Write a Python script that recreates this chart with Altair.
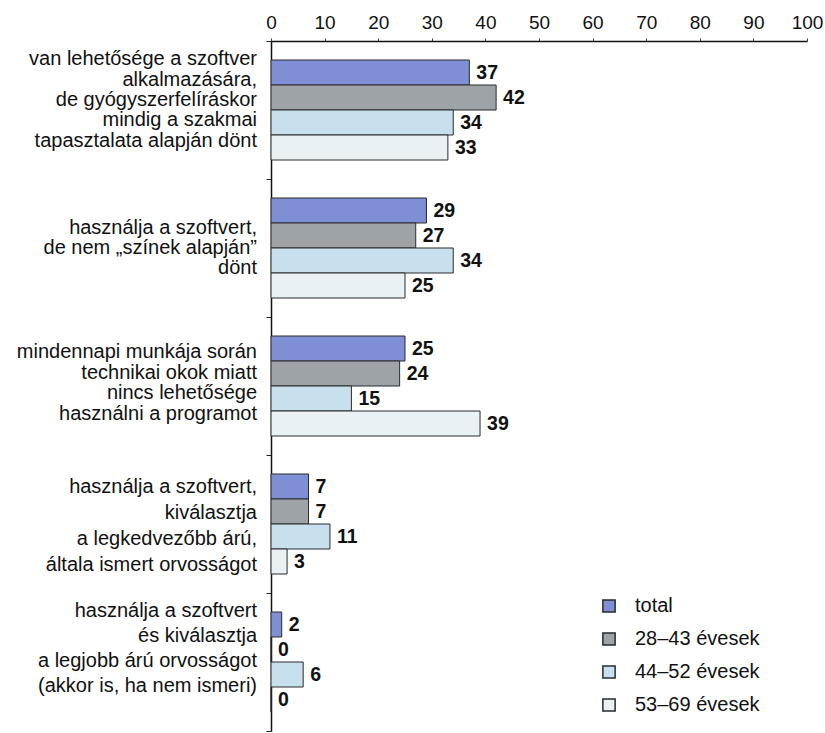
import altair as alt
import pandas as pd

# Answer categories (line breaks as printed beside the bars)
categories = [
    "van lehetősége a szoftver\nalkalmazására,\nde gyógyszerfelíráskor\nmindig a szakmai\ntapasztalata alapján dönt",
    "használja a szoftvert,\nde nem „színek alapján”\ndönt",
    "mindennapi munkája során\ntechnikai okok miatt\nnincs lehetősége\nhasználni a programot",
    "használja a szoftvert,\nkiválasztja\na legkedvezőbb árú,\náltala ismert orvosságot",
    "használja a szoftvert\nés kiválasztja\na legjobb árú orvosságot\n(akkor is, ha nem ismeri)",
]

series = ["total", "28–43 évesek", "44–52 évesek", "53–69 évesek"]
colors = ["#7f8fd6", "#9ea3a8", "#c8e0ee", "#e9f1f4"]

total = [37, 29, 25, 7, 2]
age_28_43 = [42, 27, 24, 7, 0]
age_44_52 = [34, 34, 15, 11, 6]
age_53_69 = [33, 25, 39, 3, 0]

x_ticks = [0, 10, 20, 30, 40, 50, 60, 70, 80, 90, 100]

# typesetting of the category labels: leading and vertical nudge (px)
label_leading = [20.3, 20.3, 20.4, 26.0, 25.0]
label_nudge = [-10, 0, -3, 1.5, -14]

FONT = "Liberation Sans"
BAND = 138  # px per category band (690 / 5)

rows = []
for name, vals in zip(series, [total, age_28_43, age_44_52, age_53_69]):
    for cat, v in zip(categories, vals):
        rows.append({"cat": cat, "series": name, "value": v})
df = pd.DataFrame(rows)

label_rows = []
for cat, lead, nudge in zip(categories, label_leading, label_nudge):
    lines = cat.split("\n")
    n = len(lines)
    for j, line in enumerate(lines):
        label_rows.append(
            {"cat": cat, "line": line, "off": nudge + (j - (n - 1) / 2) * lead}
        )
label_df = pd.DataFrame(label_rows)

y_enc = alt.Y(
    "cat:N",
    sort=categories,
    scale=alt.Scale(paddingInner=0, paddingOuter=0),
    axis=alt.Axis(
        title=None,
        labels=False,
        tickBand="extent",
        tickSize=5,
        tickColor="#222",
        domainColor="#111",
        domainWidth=1.5,
    ),
)
yoff_enc = alt.YOffset(
    "series:N", sort=series, scale=alt.Scale(paddingInner=0, paddingOuter=0.76)
)

bars = alt.Chart(df).mark_bar(stroke="#2a2a2a", strokeWidth=1).encode(
    x=alt.X(
        "value:Q",
        scale=alt.Scale(domain=[0, 100], nice=False),
        axis=alt.Axis(
            orient="top",
            title=None,
            values=x_ticks,
            grid=False,
            labelFontSize=19,
            labelFont=FONT,
            labelColor="#111",
            labelPadding=6,
            labelFlush=False,
            tickSize=3,
            tickColor="#444",
            domainColor="#111",
            domainWidth=1.5,
        ),
    ),
    y=y_enc,
    yOffset=yoff_enc,
    color=alt.Color(
        "series:N",
        sort=series,
        scale=alt.Scale(domain=series, range=colors),
        legend=alt.Legend(
            title=None,
            orient="none",
            legendX=328,
            legendY=555,
            symbolType="square",
            symbolSize=150,
            symbolStrokeColor="#2a2a2a",
            symbolStrokeWidth=1.5,
            labelFontSize=20,
            labelFont=FONT,
            labelColor="#111",
            labelOffset=16,
            rowPadding=13,
        ),
    ),
)

values = alt.Chart(df).mark_text(
    align="left",
    baseline="middle",
    dx=7,
    fontSize=19.5,
    fontWeight="bold",
    font=FONT,
    color="#111",
).encode(
    x="value:Q",
    y=alt.Y("cat:N", sort=categories),
    yOffset=alt.YOffset("series:N", sort=series),
    text="value:Q",
)

# category labels, one text line per row, centred on each band
cat_labels = alt.Chart(label_df).mark_text(
    align="right",
    baseline="middle",
    dx=-14,
    fontSize=20,
    font=FONT,
    color="#111",
).encode(
    x=alt.value(0),
    y=alt.Y("cat:N", sort=categories),
    yOffset=alt.YOffset(
        "off:Q", scale=alt.Scale(domain=[-BAND / 2, BAND / 2], range=[0, BAND])
    ),
    text="line:N",
)

chart = (
    alt.layer(alt.layer(bars, values), cat_labels)
    .resolve_scale(yOffset="independent")
    .properties(
        width=536,
        height=690,
        autosize=alt.AutoSizeParams(type="none"),
        padding={"left": 271, "top": 41, "right": 18, "bottom": 2},
        background="white",
    )
    .configure_view(stroke=None)
)

chart.save("out.html", embed_options={"renderer": "svg", "actions": False})
